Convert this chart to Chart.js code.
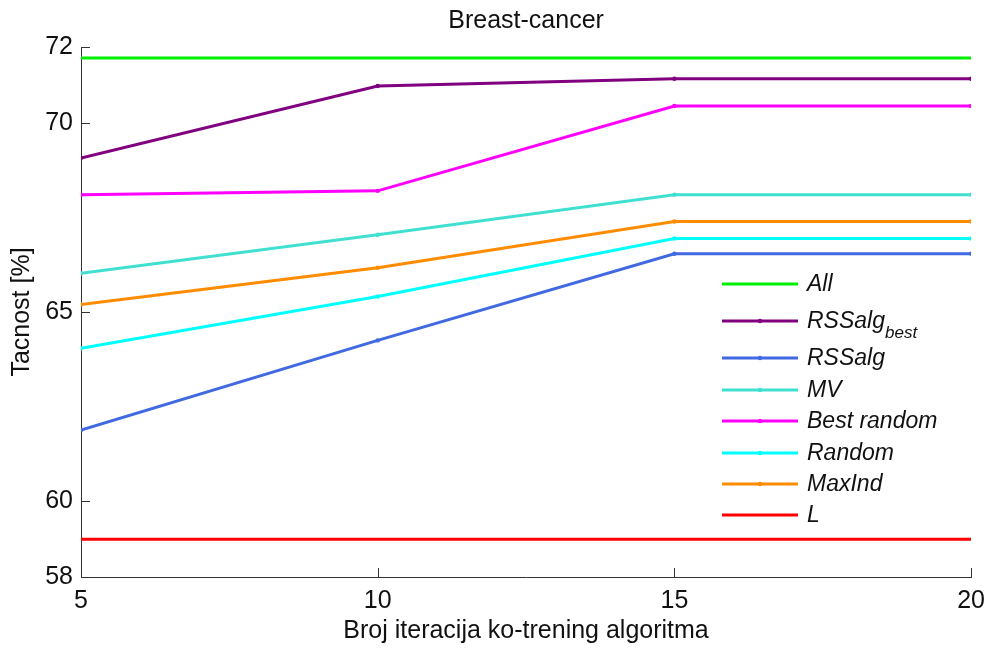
<!DOCTYPE html>
<html>
<head>
<meta charset="utf-8">
<script src="https://cdn.jsdelivr.net/npm/chart.js@4.4.1/dist/chart.umd.min.js"></script>
<style>
  html, body { margin: 0; padding: 0; background: #fff; }
  #wrap { width: 994px; height: 648px; }
</style>
</head>
<body>
<div id="wrap"><canvas id="chart" width="994" height="648"></canvas></div>
<script>
// iterations on x axis
const iterations = [5, 10, 15, 20];
const yTicks = [58, 60, 65, 70, 72];

// accuracy values
const allVals       = [71.71, 71.71, 71.71, 71.71];
const rssBestVals   = [69.07, 70.97, 71.16, 71.16];
const rssVals       = [61.88, 64.25, 66.54, 66.54];
const mvVals        = [66.02, 67.04, 68.10, 68.10];
const bestRandVals  = [68.10, 68.20, 70.44, 70.44];
const randomVals    = [64.04, 65.41, 66.94, 66.94];
const maxIndVals    = [65.20, 66.17, 67.39, 67.39];
const lVals         = [59.0, 59.0, 59.0, 59.0];

const seriesNames = ['All', 'RSSalg', 'RSSalg', 'MV', 'Best random', 'Random', 'MaxInd', 'L'];
const seriesSubs  = ['', 'best', '', '', '', '', '', ''];
const seriesColors = ['#00ee00', '#800080', '#4169e1', '#40e0d0', '#ff00ff', '#00ffff', '#ff8c00', '#ff0000'];
const seriesMarkers = [false, true, true, true, true, true, true, false];
const seriesValues = [allVals, rssBestVals, rssVals, mvVals, bestRandVals, randomVals, maxIndVals, lVals];

const FONT = '"Liberation Sans", Arial, sans-serif';

const datasets = seriesValues.map((vals, i) => ({
    label: seriesNames[i] + seriesSubs[i],
    data: vals.map((v, k) => ({ x: iterations[k], y: v })),
    borderColor: seriesColors[i],
    backgroundColor: seriesColors[i],
    borderWidth: 3,
    pointRadius: seriesMarkers[i] ? 2.2 : 0,
    pointBorderWidth: 0,
    pointHoverRadius: 0,
    tension: 0
}));

// title, inward ticks and the legend box
const extras = {
    id: 'extras',
    afterDraw(chart) {
        const ctx = chart.ctx;
        const xs = chart.scales.x, ys = chart.scales.y;
        const area = chart.chartArea;
        ctx.save();
        ctx.strokeStyle = '#333';
        ctx.lineWidth = 1;
        ctx.beginPath();
        yTicks.forEach(v => {
            const py = Math.round(ys.getPixelForValue(v)) + 0.5;
            ctx.moveTo(area.left, py);
            ctx.lineTo(area.left + 9, py);
        });
        iterations.forEach(v => {
            const px = Math.round(xs.getPixelForValue(v)) + 0.5;
            ctx.moveTo(px, area.bottom);
            ctx.lineTo(px, area.bottom - 9);
        });
        ctx.stroke();

        ctx.fillStyle = '#111';
        ctx.font = '25px ' + FONT;
        ctx.textAlign = 'center';
        ctx.textBaseline = 'alphabetic';
        ctx.fillText('Breast-cancer', (area.left + area.right) / 2, 28);

        const legY = [284, 321, 358, 390, 421, 453, 484, 515];
        ctx.textAlign = 'left';
        ctx.textBaseline = 'middle';
        seriesNames.forEach((name, i) => {
            const y = legY[i];
            ctx.strokeStyle = seriesColors[i];
            ctx.lineWidth = 3;
            ctx.beginPath();
            ctx.moveTo(722, y);
            ctx.lineTo(798, y);
            ctx.stroke();
            if (seriesMarkers[i]) {
                ctx.fillStyle = seriesColors[i];
                ctx.beginPath();
                ctx.arc(760, y, 2.2, 0, Math.PI * 2);
                ctx.fill();
            }
            ctx.fillStyle = '#111';
            ctx.font = 'italic 23px ' + FONT;
            ctx.fillText(name, 807, y + 1);
            if (seriesSubs[i]) {
                const w = ctx.measureText(name).width;
                ctx.font = 'italic 17px ' + FONT;
                ctx.fillText(seriesSubs[i], 807 + w, y + 12);
            }
        });
        ctx.restore();
    }
};

new Chart(document.getElementById('chart').getContext('2d'), {
    type: 'line',
    data: { datasets: datasets },
    options: {
        responsive: false,
        animation: false,
        layout: { padding: { top: 47, right: 21, left: 0, bottom: 0 } },
        plugins: {
            legend: { display: false },
            title: { display: false },
            tooltip: { enabled: false }
        },
        scales: {
            x: {
                type: 'linear',
                min: 5,
                max: 20,
                afterBuildTicks: s => { s.ticks = iterations.map(v => ({ value: v })); },
                afterFit: s => { s.height = 71; },
                grid: { display: false, drawTicks: false },
                border: { display: true, color: '#333', width: 1 },
                ticks: {
                    color: '#111',
                    padding: 9,
                    maxRotation: 0,
                    font: { family: FONT, size: 25 }
                },
                title: {
                    display: true,
                    text: 'Broj iteracija ko-trening algoritma',
                    color: '#111',
                    padding: { top: 0, bottom: 2 },
                    font: { family: FONT, size: 25 }
                }
            },
            y: {
                min: 58,
                max: 72,
                afterBuildTicks: s => { s.ticks = yTicks.map(v => ({ value: v })); },
                afterFit: s => { s.width = 81; },
                grid: { display: false, drawTicks: false },
                border: { display: true, color: '#333', width: 1 },
                ticks: {
                    color: '#111',
                    padding: 8,
                    font: { family: FONT, size: 25 }
                },
                title: {
                    display: true,
                    text: 'Tacnost [%]',
                    color: '#111',
                    padding: { top: 7, bottom: 0 },
                    font: { family: FONT, size: 25 }
                }
            }
        }
    },
    plugins: [extras]
});
</script>
</body>
</html>
